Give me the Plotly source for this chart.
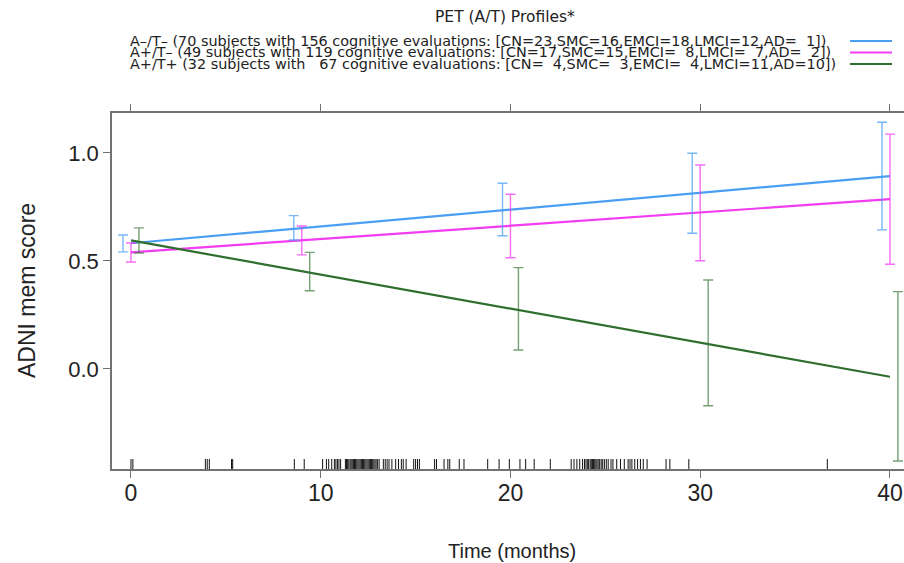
import plotly.graph_objects as go

# Evaluation times (months) of the fitted effect
times = [0, 9, 20, 30, 40]

profiles = ["A–/T–", "A+/T–", "A+/T+"]

# Fitted ADNI memory score and 95% CI per profile
fit_neg_neg = [0.582, 0.652, 0.738, 0.815, 0.893]
low_neg_neg = [0.542, 0.597, 0.617, 0.628, 0.644]
upp_neg_neg = [0.620, 0.710, 0.860, 0.999, 1.142]

fit_pos_neg = [0.540, 0.595, 0.663, 0.725, 0.786]
low_pos_neg = [0.495, 0.528, 0.515, 0.501, 0.485]
upp_pos_neg = [0.583, 0.662, 0.809, 0.944, 1.087]

fit_pos_pos = [0.595, 0.453, 0.279, 0.122, -0.036]
low_pos_pos = [0.537, 0.362, 0.088, -0.170, -0.426]
upp_pos_pos = [0.653, 0.540, 0.469, 0.412, 0.358]

# Legend: subjects / evaluations per profile
n_subjects = [70, 49, 32]
n_evaluations = [156, 119, 67]
# diagnosis counts per profile: CN, SMC, EMCI, LMCI, AD
diag_keys = ["CN", "SMC", "EMCI", "LMCI", "AD"]
diag_counts = [
    [23, 16, 18, 12, 1],
    [17, 15, 8, 7, 2],
    [4, 3, 4, 11, 10],
]

# Observation times of the cognitive evaluations (rug)
rug_times = [
    0.0, 0.1, 3.92, 4.02, 4.13, 5.30, 5.36, 8.61, 9.13,
    10.1, 10.3, 10.42, 10.58, 10.72, 10.8, 10.88, 10.96, 11.05,
    11.3, 11.36, 11.42, 11.48, 11.55, 11.6, 11.66, 11.72, 11.78, 11.84,
    11.9, 11.96, 12.02, 12.08, 12.14, 12.2, 12.26, 12.32, 12.38, 12.44,
    12.5, 12.56, 12.62, 12.68, 12.74, 12.8, 12.86, 12.92, 13.0, 13.08,
    13.3, 13.4, 13.5, 13.6, 13.75, 13.95, 14.1, 14.25, 14.35, 14.5,
    14.9, 15.0, 15.1, 15.2, 16.0, 16.1, 16.5, 16.7, 16.8, 17.3, 17.55,
    18.8, 19.4, 19.94, 20.5, 20.8, 21.25, 22.1,
    23.2, 23.35, 23.5, 23.65, 23.8, 23.9, 23.98, 24.05, 24.12, 24.2,
    24.26, 24.32, 24.38, 24.44, 24.5, 24.56, 24.62, 24.7, 24.78, 24.86,
    24.95, 25.05, 25.15, 25.3, 25.4, 25.6, 25.8, 26.0, 26.2, 26.3,
    26.4, 26.55, 26.7, 26.85, 27.0, 27.2, 28.2, 28.4, 29.4, 36.7,
]

line_colors = ["#4a9ff2", "#f23cf2", "#2f6e2f"]
bar_colors = ["rgba(74,159,242,0.75)", "rgba(242,60,242,0.75)", "rgba(60,120,60,0.7)"]
DODGE = [-0.42, 0.0, 0.42]

fits = [fit_neg_neg, fit_pos_neg, fit_pos_pos]
lows = [low_neg_neg, low_pos_neg, low_pos_pos]
upps = [upp_neg_neg, upp_pos_neg, upp_pos_pos]

FONT = "Liberation Sans, Arial, Helvetica, sans-serif"
KEY_FONT = "DejaVu Sans, Verdana, sans-serif"
AXIS_GRAY = "#727272"
TEXT = "#222222"

fig = go.Figure()

# fitted lines
for name, fit, col in zip(profiles, fits, line_colors):
    fig.add_trace(go.Scatter(
        x=times, y=fit, mode="lines", name=name,
        line=dict(color=col, width=2.2), showlegend=False,
    ))

# confidence interval bars, dodged per profile
for fit, lo, up, col, dx in zip(fits, lows, upps, bar_colors, DODGE):
    fig.add_trace(go.Scatter(
        x=[t + dx for t in times], y=fit, mode="markers",
        marker=dict(size=1, color="rgba(0,0,0,0)"),
        error_y=dict(
            type="data", symmetric=False,
            array=[u - f for u, f in zip(up, fit)],
            arrayminus=[f - l for f, l in zip(fit, lo)],
            color=col, thickness=1.4, width=5,
        ),
        showlegend=False, hoverinfo="skip",
    ))

# rug of evaluation times along the bottom
rx, ry = [], []
for r in rug_times:
    rx += [r, r, None]
    ry += [0, 0.028, None]
fig.add_trace(go.Scatter(
    x=rx, y=ry, yaxis="y2", mode="lines",
    line=dict(color="#111111", width=1), showlegend=False, hoverinfo="skip",
))

W, H = 904, 563
L, T, B = 112, 113, 94
PW, PH = W - L, H - T - B


def px_x(px):
    return (px - L) / PW


def px_y(py):
    return (H - B - py) / PH


def note(text, x, y, size, xanchor="center", angle=0, family=FONT):
    return dict(text=text, x=px_x(x), y=px_y(y), xref="paper", yref="paper",
                xanchor=xanchor, yanchor="middle", textangle=angle, showarrow=False,
                font=dict(size=size, color=TEXT, family=family))


def pad(n, width):
    s = str(n)
    return "\u00a0\u00a0" * (width - len(s)) + s


annotations = [
    note("ADNI mem score", 27, 291, 23, angle=-90),
    note("Time (months)", 512, 551, 20),
    note("PET (A/T) Profiles*", 505, 17, 15.5, family=KEY_FONT),
]

shapes = []
row_y = [41, 52.5, 64]
for i, (name, col, yy) in enumerate(zip(profiles, line_colors, row_y)):
    counts = ",".join(f"{k}={pad(c, 2)}" for k, c in zip(diag_keys, diag_counts[i]))
    row = (f"{name} ({n_subjects[i]} subjects with {pad(n_evaluations[i], 3)} "
           f"cognitive evaluations: [{counts}])")
    annotations.append(note(row, 128, yy, 14.4, xanchor="left", family=KEY_FONT))
    shapes.append(dict(type="line", xref="paper", yref="paper",
                       x0=px_x(850), x1=px_x(892), y0=px_y(yy), y1=px_y(yy),
                       line=dict(color=col, width=2.2)))

fig.update_layout(
    width=W, height=H,
    margin=dict(l=L, r=0, t=T, b=B, pad=0),
    paper_bgcolor="white", plot_bgcolor="white",
    font=dict(family=FONT),
    xaxis=dict(
        range=[-1.0, 40.74], tickvals=[0, 10, 20, 30, 40],
        showgrid=False, zeroline=False,
        showline=True, linecolor=AXIS_GRAY, linewidth=1.5, mirror="ticks",
        ticks="outside", ticklen=7, tickwidth=1.3, tickcolor=AXIS_GRAY,
        ticklabelstandoff=-4,
        tickfont=dict(size=23, color=TEXT, family=FONT),
    ),
    yaxis=dict(
        range=[-0.463, 1.185], tickvals=[0.0, 0.5, 1.0], ticktext=["0.0", "0.5", "1.0"],
        showgrid=False, zeroline=False,
        showline=True, linecolor=AXIS_GRAY, linewidth=1.5,
        ticks="outside", ticklen=7, tickwidth=1.3, tickcolor=AXIS_GRAY,
        tickfont=dict(size=22, color=TEXT, family=FONT),
    ),
    yaxis2=dict(range=[0, 1], overlaying="y", visible=False),
    annotations=annotations,
    shapes=shapes,
)

fig.write_html("out.html")
